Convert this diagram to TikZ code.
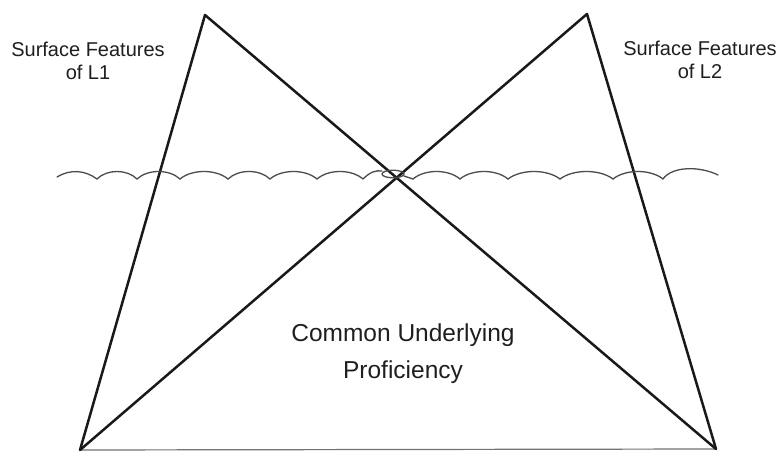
\documentclass[tikz,border=0pt]{standalone}
\usepackage{fontspec}
\setmainfont{Liberation Sans}
\begin{document}
\begin{tikzpicture}[x=1pt,y=-1pt,
  edge/.style={line width=2.5pt,black!90,line cap=round,line join=round},
  baseedge/.style={line width=1.2pt,black!55},
  wave/.style={line width=1.3pt,black!70,line cap=round},
  label/.style={text=black!88,align=center,inner sep=0pt}]
\useasboundingbox (0,0) rectangle (780,452);
\fill[white] (0,0) rectangle (780,452);
% vertices
\coordinate (A1) at (205,15);
\coordinate (A2) at (587,14);
\coordinate (BL) at (80,450);
\coordinate (BR) at (716,449);
% triangles
\draw[baseedge] (BL) -- (BR);
\draw[edge] (BL) -- (A1) -- (BR);
\draw[edge] (BL) -- (A2) -- (BR);
% wavy water line
\draw[wave] (57,177) .. controls (70,169) and (85,170) .. (97,179);
\foreach \a/\b in {97/137,137/180,180/228,228/270,270/317,317/363}{
  \draw[wave] (\a,179) .. controls ({\a+0.25*(\b-\a)},169) and ({\b-0.25*(\b-\a)},169) .. (\b,179);
}
\draw[wave] (363,179) .. controls (370,172) and (376,170) .. (382,171);
\draw[wave] (393,174) ellipse [x radius=11, y radius=3.8];
\draw[wave] (404,176) -- (413,179);
\foreach \a/\b in {413/460,460/508,508/560,560/613,613/663}{
  \draw[wave] (\a,179) .. controls ({\a+0.25*(\b-\a)},169) and ({\b-0.25*(\b-\a)},169) .. (\b,179);
}
\draw[wave] (663,179) .. controls (672,166) and (700,166) .. (718,175);
% labels
\node[label,font=\fontsize{20}{23}\selectfont] (L1) at (88,61) {Surface Features\\of L1};
\node[label,font=\fontsize{20}{23}\selectfont] (L2) at (700,60) {Surface Features\\of L2};
\node[label,font=\fontsize{24.5}{37}\selectfont] (CUP) at (403,354) {Common Underlying\\Proficiency};
\end{tikzpicture}
\end{document}
